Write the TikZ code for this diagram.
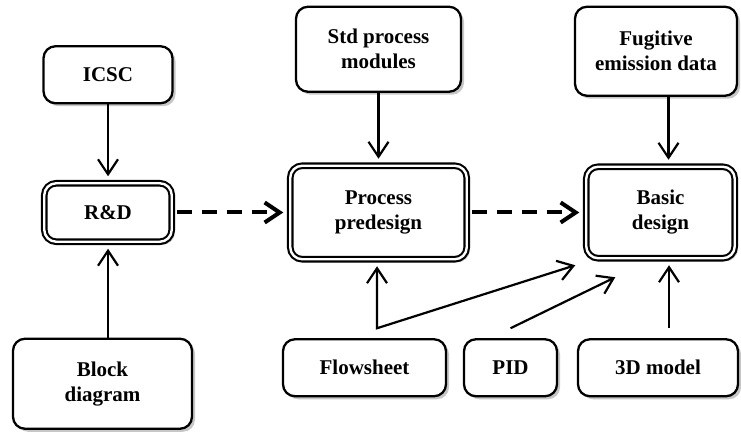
\documentclass[tikz,border=0pt]{standalone}
\usepackage{fontspec}
\setmainfont{Liberation Serif}
\usetikzlibrary{arrows.meta, positioning, shadows}
\tikzstyle{box} = [rectangle, draw, line width=2.3pt, fill=white, rounded corners=12pt,
    align=center, inner sep=0pt, outer sep=0pt, font=\fontsize{21}{25}\selectfont\bfseries,
    drop shadow={shadow xshift=3pt, shadow yshift=-3pt, fill=black!22, opacity=1}]
\tikzstyle{stage} = [box, line width=2.1pt, double=white, double distance=2.4pt]
\tikzstyle{arrow} = [line width=2.2pt, -{Straight Barb[length=15pt, width=20pt]}, shorten >=7pt]
\tikzstyle{twoway} = [arrow, {Straight Barb[length=15pt, width=20pt]}-{Straight Barb[length=15pt, width=20pt]},
    shorten <=7pt, shorten >=0pt]
\tikzstyle{dasharrow} = [arrow, line width=4pt, dash pattern=on 15pt off 10pt, shorten <=5pt]

\begin{document}
\begin{tikzpicture}[x=1pt, y=-1pt]
    \useasboundingbox (0,0) rectangle (741,435);
    % Design stages
    \node [stage, minimum width=127.5pt, minimum height=58.5pt] (rd) at (108,212.5) {R\&D};
    \node [stage, minimum width=176.5pt, minimum height=93.5pt, right=118.5pt of rd] (pre) {Process\\predesign};
    \node [stage, minimum width=148.5pt, minimum height=91.5pt, right=119.5pt of pre] (basic) {Basic\\design};

    % Inputs
    \node [box, minimum width=129pt, minimum height=57pt, above=80pt of rd] (icsc) {ICSC};
    \node [box, minimum width=179pt, minimum height=90pt, below=97pt of rd, xshift=-5.5pt] (block) {Block\\diagram};
    \node [box, minimum width=165pt, minimum height=85pt, above=74pt of pre] (std) {Std process\\modules};
    \node [box, minimum width=162pt, minimum height=89pt, above=71pt of basic, xshift=-4.5pt] (fug) {Fugitive\\emission data};
    \node [box, minimum width=163pt, minimum height=57pt, below=80pt of pre, xshift=-14pt] (flow) {Flowsheet};
    \node [box, minimum width=93pt, minimum height=57pt, right=18pt of flow] (pid) {PID};
    \node [box, minimum width=160pt, minimum height=57pt, right=21pt of pid] (model) {3D model};

    % Connection points
    \coordinate (fugin) at ([xshift=8pt]basic.north);
    \coordinate (flowjoin) at ([xshift=12.5pt, yshift=11pt]flow.north);
    \coordinate (pidout) at ([yshift=11pt]pid.north);
    \coordinate (modelout) at ([xshift=11pt, yshift=11pt]model.north);

    % Main flow
    \draw [dasharrow] (rd) -- (pre);
    \draw [dasharrow] (pre) -- (basic);

    % Input arrows
    \draw [arrow] (icsc.south) -- (icsc.south |- rd.north);
    \draw [arrow] (rd.south |- block.north) -- (rd.south);
    \draw [arrow] (std) -- (pre);
    \draw [arrow] (fugin |- fug.south) -- (fugin);
    \draw [twoway] (flowjoin |- pre.south) -- (flowjoin) -- ([xshift=-11pt, yshift=-7pt]basic.south west);
    \draw [arrow, shorten >=0pt] (pidout) -- ([xshift=29pt, yshift=-19pt]basic.south west);
    \draw [arrow] (modelout) -- (modelout |- basic.south);
\end{tikzpicture}
\end{document}
